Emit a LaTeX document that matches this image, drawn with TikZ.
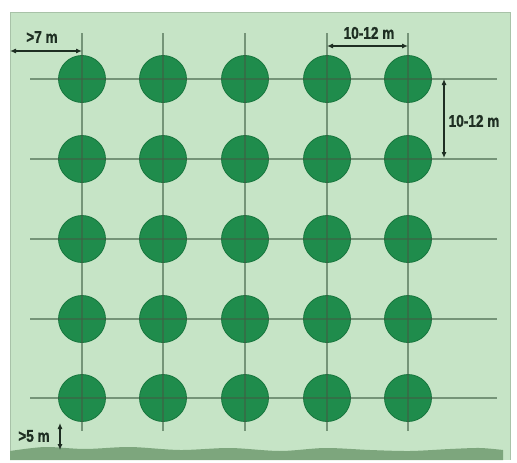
\documentclass[tikz,border=0pt]{standalone}
\usepackage{fontspec}
\newfontfamily\dimfont[FakeStretch=0.8,FakeBold=1.2]{Liberation Sans}
\usetikzlibrary{arrows.meta}
\definecolor{lawn}{HTML}{C6E4C6}
\definecolor{lawnedge}{HTML}{A8C2A8}
\definecolor{crown}{HTML}{1F8C4C}
\definecolor{crowndark}{HTML}{17753D}
\definecolor{gridline}{HTML}{3F5F45}
\definecolor{soil}{HTML}{7DA67D}
\definecolor{dimtext}{HTML}{1E2E22}
\tikzset{
	treenode/.style={
			circle,
			draw=crowndark,
			fill=crown,
			thick,
			minimum size=47pt,
			inner sep=0pt
		},
	gridrule/.style={
			draw=gridline,
			line width=1.5pt,
			opacity=0.6
		},
	dimline/.style={
			draw=dimtext,
			line width=1.1pt,
			<->,
			>={Latex[length=6pt,width=5pt]}
		},
	dimlabel/.style={
			font=\dimfont\bfseries\fontsize{17}{17}\selectfont,
			text=dimtext,
			inner sep=0pt
		}
}
\begin{document}
\begin{tikzpicture}[x=1pt, y=-1pt]
\useasboundingbox (0,0) rectangle (517,463);
\fill[lawn] (10,12) rectangle (510,460);
\draw[lawnedge, thick] (10,460) -- (10,12) -- (510,12) -- (510,460);
\fill[soil] (10,460) -- plot[smooth] coordinates {(10,451) (45,447) (85,449) (130,447) (180,450) (230,448) (280,451) (325,448) (370,450) (410,451) (450,449) (480,448) (503,450)} -- (503,460) -- cycle;

% trees
\foreach \c [count=\i] in {82,163,245,327,408}
  \foreach \r [count=\j] in {79,159,239,319,398}
    \node[treenode] (t\j\i) at (\c,\r) {};

% planting grid
\foreach \r in {79,159,239,319,398}
  \draw[gridrule] (30,\r) -- (497,\r);
\foreach \c in {82,163,245,327,408}
  \draw[gridrule] (\c,33) -- (\c,431);

% spacings
\coordinate (leftedge) at (10,51);
\coordinate (firstcol) at (82,51);
\draw[dimline] (leftedge) -- (firstcol);
\node[dimlabel] (edgegap) at (42,37) {>7 m};

\coordinate (colA) at (327,46);
\coordinate (colB) at (408,46);
\draw[dimline] (colA) -- (colB);
\node[dimlabel] (colgap) at (369,33) {10-12 m};

\coordinate (rowA) at (444,79);
\coordinate (rowB) at (444,158);
\draw[dimline] (rowA) -- (rowB);
\node[dimlabel] (rowgap) at (474,121) {10-12 m};

\coordinate (lastrow) at (60,423);
\coordinate (ground) at (60,450);
\draw[dimline] (lastrow) -- (ground);
\node[dimlabel] (groundgap) at (34,436) {>5 m};
\end{tikzpicture}
\end{document}
